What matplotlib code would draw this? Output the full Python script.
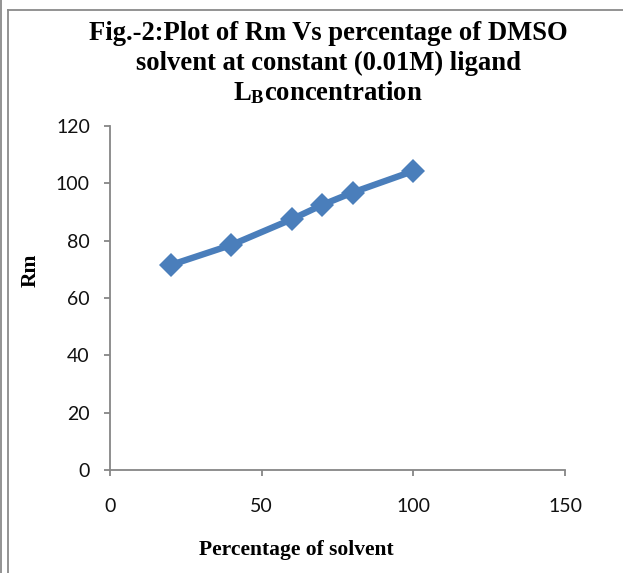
import matplotlib
matplotlib.use("Agg")
import matplotlib.pyplot as plt
from matplotlib.lines import Line2D

# Data
solvent_pct = [20, 40, 60, 70, 80, 100]
rm_values = [71.5, 78.5, 87.5, 92.5, 96.8, 104.3]
x_ticks = [0, 50, 100, 150]
y_ticks = [0, 20, 40, 60, 80, 100, 120]
title_lines = ["Fig.-2:Plot of Rm Vs percentage of DMSO",
               "solvent at constant (0.01M) ligand",
               r"L$_{\mathbf{B}}$concentration"]
x_label = "Percentage of solvent"
y_label = "Rm"

plt.rcParams['mathtext.fontset'] = 'custom'
plt.rcParams['mathtext.bf'] = 'Liberation Serif:bold'
plt.rcParams['mathtext.rm'] = 'Liberation Serif:bold'
plt.rcParams['mathtext.it'] = 'Liberation Serif:bold'

tick_font, tick_size = 'Lato', 14

W, H = 623, 573
fig = plt.figure(figsize=(W / 100, H / 100), dpi=100)
ax = fig.add_axes([110 / W, 1 - 470 / H, 455 / W, 344 / H])

ax.plot(solvent_pct, rm_values, color='#4A7EBB', lw=4.6, marker='D',
        markersize=12, markeredgewidth=0, solid_capstyle='round', clip_on=False)

ax.set_xlim(0, 150)
ax.set_ylim(0, 120)
ax.set_xticks(x_ticks)
ax.set_yticks(y_ticks)
ax.set_xticklabels([str(v) for v in x_ticks])
ax.set_yticklabels([str(v) for v in y_ticks])

gray = '#868686'
for s in ['top', 'right']:
    ax.spines[s].set_visible(False)
for s in ['left', 'bottom']:
    ax.spines[s].set_color(gray)
    ax.spines[s].set_linewidth(1.3)
ax.tick_params(axis='both', colors=gray, length=4.5, width=1.3, labelcolor='#111111',
               labelsize=tick_size)
ax.tick_params(axis='x', pad=16)
ax.tick_params(axis='y', pad=10)
for lab in ax.get_xticklabels() + ax.get_yticklabels():
    lab.set_fontfamily(tick_font)

ax.set_xlabel(x_label, fontfamily='Liberation Serif', fontweight='bold', fontsize=15.5)
ax.xaxis.set_label_coords((296 - 110) / 455, -(550 - 470) / 344)
ax.xaxis.label.set_va('center')
ax.set_ylabel(y_label, fontfamily='Liberation Serif', fontweight='bold', fontsize=15.5)
ax.yaxis.set_label_coords((31 - 110) / 455, (470 - 270) / 344)
ax.yaxis.label.set_va('center')

# Title
tx = 328 / W
ys = [33, 63, 93]
for line, y in zip(title_lines, ys):
    fig.text(tx, 1 - y / H, line, ha='center', va='center',
             fontfamily='Liberation Serif', fontweight='bold', fontsize=19.2)

# Frame lines
fig.add_artist(Line2D([1 / W, 1 / W], [0, 1], transform=fig.transFigure,
                      color='#8a8a8a', lw=1.3))
fig.add_artist(Line2D([7.5 / W, 7.5 / W], [0, 1 - 10 / H], transform=fig.transFigure,
                      color='#8a8a8a', lw=1.3))
fig.add_artist(Line2D([7.5 / W, 1], [1 - 10 / H, 1 - 10 / H], transform=fig.transFigure,
                      color='#8a8a8a', lw=1.3))

fig.savefig('out.png', dpi=100)
